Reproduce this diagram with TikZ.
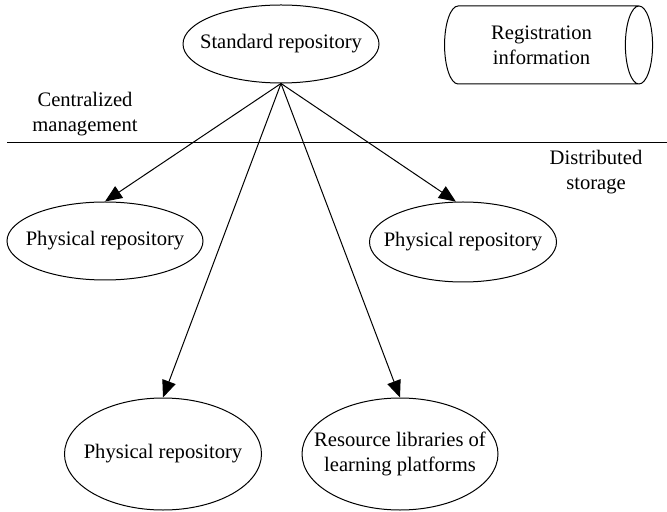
\documentclass[tikz,border=0pt]{standalone}
\usepackage{fontspec}
\setmainfont{Liberation Serif}
\usepackage{tikz}
\usetikzlibrary{arrows.meta,positioning,shapes.geometric,calc}

\tikzset{
  repo/.style={ellipse, draw, line width=0.5pt, inner sep=0pt},
  link/.style={line width=0.5pt, -{Triangle[length=8.5pt,width=7pt]}},
}

\begin{document}
\begin{tikzpicture}[x=0.5pt, y=-0.5pt, font=\fontsize{10.3}{12.5}\selectfont]
  \useasboundingbox (0,0) rectangle (667,512);

  % top level
  \node[repo, minimum width=98pt, minimum height=39pt,
        label=center:{Standard repository}] (std) at (281,44) {};
  \node[cylinder, draw, line width=0.5pt, aspect=0.7,
        minimum height=104pt, minimum width=39pt, inner sep=0pt,
        align=center] (reg) at (541.5,45) {Registration\\information};

  % dividing line
  \coordinate (sepL) at (7,143);
  \coordinate (sepR) at (667,143);
  \draw[line width=0.5pt] (sepL) -- (sepR);
  \node[align=center] (central) at (85,114) {Centralized\\management};
  \node[align=center] (distrib) at (596,172) {Distributed\\storage};

  % storage nodes
  \node[repo, minimum width=98pt, minimum height=39pt,
        label=center:{Physical repository}] (physL) at (105,241) {};
  \node[repo, minimum width=93.5pt, minimum height=40pt,
        label=center:{Physical repository}] (physR) at (463,242) {};
  \node[repo, minimum width=98.5pt, minimum height=56pt,
        label=center:{Physical repository}] (physB) at (163,454) {};
  \node[repo, minimum width=98pt, minimum height=56pt,
        label={[align=center]center:Resource libraries of\\learning platforms}] (platf) at (400,454) {};

  \draw[link] (std.south) -- (physL.north);
  \draw[link] (std.south) -- (physR.100);
  \draw[link] (std.south) -- (physB.north);
  \draw[link] (std.south) -- (platf.north);
\end{tikzpicture}
\end{document}
